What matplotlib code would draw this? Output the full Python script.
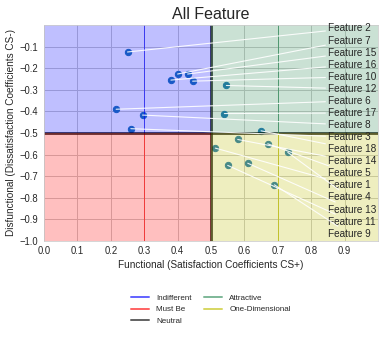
import numpy as np
import matplotlib
matplotlib.use("Agg")
import matplotlib.pyplot as plt
from matplotlib.lines import Line2D
import seaborn as sns

sns.set_style("whitegrid")
plt.rcParams['font.family'] = ['Liberation Sans', 'DejaVu Sans']

# Kano coefficients per feature: functional (CS+) and dysfunctional (CS-)
features = ["Feature 2", "Feature 7", "Feature 15", "Feature 16", "Feature 10",
            "Feature 12", "Feature 6", "Feature 17", "Feature 8", "Feature 3",
            "Feature 18", "Feature 14", "Feature 5", "Feature 1", "Feature 4",
            "Feature 13", "Feature 11", "Feature 9"]
functional = [0.25, 0.40, 0.43, 0.38, 0.445, 0.546, 0.216, 0.54, 0.295,
              0.26, 0.65, 0.58, 0.67, 0.513, 0.73, 0.61, 0.55, 0.69]
dysfunctional = [-0.125, -0.227, -0.227, -0.255, -0.26, -0.28, -0.39, -0.41,
                  -0.417, -0.48, -0.49, -0.53, -0.55, -0.57, -0.59, -0.64,
                  -0.65, -0.74]

xticks = [0.0, 0.1, 0.2, 0.3, 0.4, 0.5, 0.6, 0.7, 0.8, 0.9]
yticks = [-1.0, -0.9, -0.8, -0.7, -0.6, -0.5, -0.4, -0.3, -0.2, -0.1]

categories = ["Indifferent", "Must Be", "Neutral", "Attractive", "One-Dimensional"]
cat_colors = ["blue", "red", "black", "seagreen", "y"]

fig = plt.figure(figsize=(385 / 72, 343 / 72), dpi=72)
ax = fig.add_axes([44 / 385, 1 - 241 / 343, 334 / 385, 216 / 343])

ax.scatter(functional, dysfunctional, s=40, color="#1f77b4", zorder=1)

# category boundaries
ax.plot([0.3, 0.3], [0, -0.5], color="blue", alpha=0.6, lw=1, zorder=1.5)
ax.plot([0.3, 0.3], [-0.5, -1], color="red", alpha=0.6, lw=1, zorder=1.5)
ax.plot([0.5, 0.5], [0, -1], color="black", alpha=0.7, lw=3, zorder=1.5)
ax.plot([0, 1], [-0.5, -0.5], color="black", alpha=0.7, lw=3, zorder=1.5)
ax.plot([0.7, 0.7], [0, -0.5], color="seagreen", alpha=0.7, lw=1, zorder=1.5)
ax.plot([0.7, 0.7], [-0.5, -1], color="y", alpha=0.7, lw=1, zorder=1.5)

# quadrant shading
ax.fill_between([0, 0.5], -0.5, 0, color="blue", alpha=0.25, lw=0, zorder=2)
ax.fill_between([0, 0.5], -1, -0.5, color="red", alpha=0.25, lw=0, zorder=2)
ax.fill_between([0.5, 1], -0.5, 0, color="seagreen", alpha=0.25, lw=0, zorder=2)
ax.fill_between([0.5, 1], -1, -0.5, color="y", alpha=0.25, lw=0, zorder=2)

# feature labels stacked along the right side with leader lines
label_y = np.linspace(-0.016, -0.966, len(features))
for name, fx, fy, ty in zip(features, functional, dysfunctional, label_y):
    ax.annotate(name, xy=(fx, fy), xytext=(0.85, ty), fontsize=10,
                ha="left", va="center", color="#262626", zorder=4,
                arrowprops=dict(arrowstyle="-", color="white", lw=1.1,
                                alpha=0.9, shrinkA=0, shrinkB=0))

ax.set_xlim(0, 1.0)
ax.set_ylim(-1.0, 0)
ax.set_xticks(xticks)
ax.set_yticks(yticks)
ax.set_xticklabels([f"{v:.1f}" for v in xticks])
ax.set_yticklabels([f"{v:.1f}".replace("-", "\u2212") for v in yticks])
ax.tick_params(labelsize=9.5, pad=2, labelcolor="#262626")
ax.set_axisbelow(True)
ax.grid(True, color="#cccccc", lw=1)
for sp in ax.spines.values():
    sp.set_color("#cccccc")

ax.set_title("All Feature", fontsize=16, color="#262626")
ax.set_xlabel("Functional (Satisfaction Coefficients CS+)", fontsize=10, labelpad=4, color="#262626")
ax.set_ylabel("Disfunctional (Dissatisfaction Coefficients CS-)", fontsize=10, labelpad=4, color="#262626")

handles = [Line2D([], [], color=c, lw=2, alpha=0.6) for c in cat_colors]
ax.legend(handles, categories, loc="upper center", bbox_to_anchor=(0.5, -0.215), ncol=2,
          frameon=False, fontsize=8, handlelength=2.2, columnspacing=1.6,
          labelspacing=0.45, handletextpad=0.9)

fig.savefig("out.png", dpi=72)
